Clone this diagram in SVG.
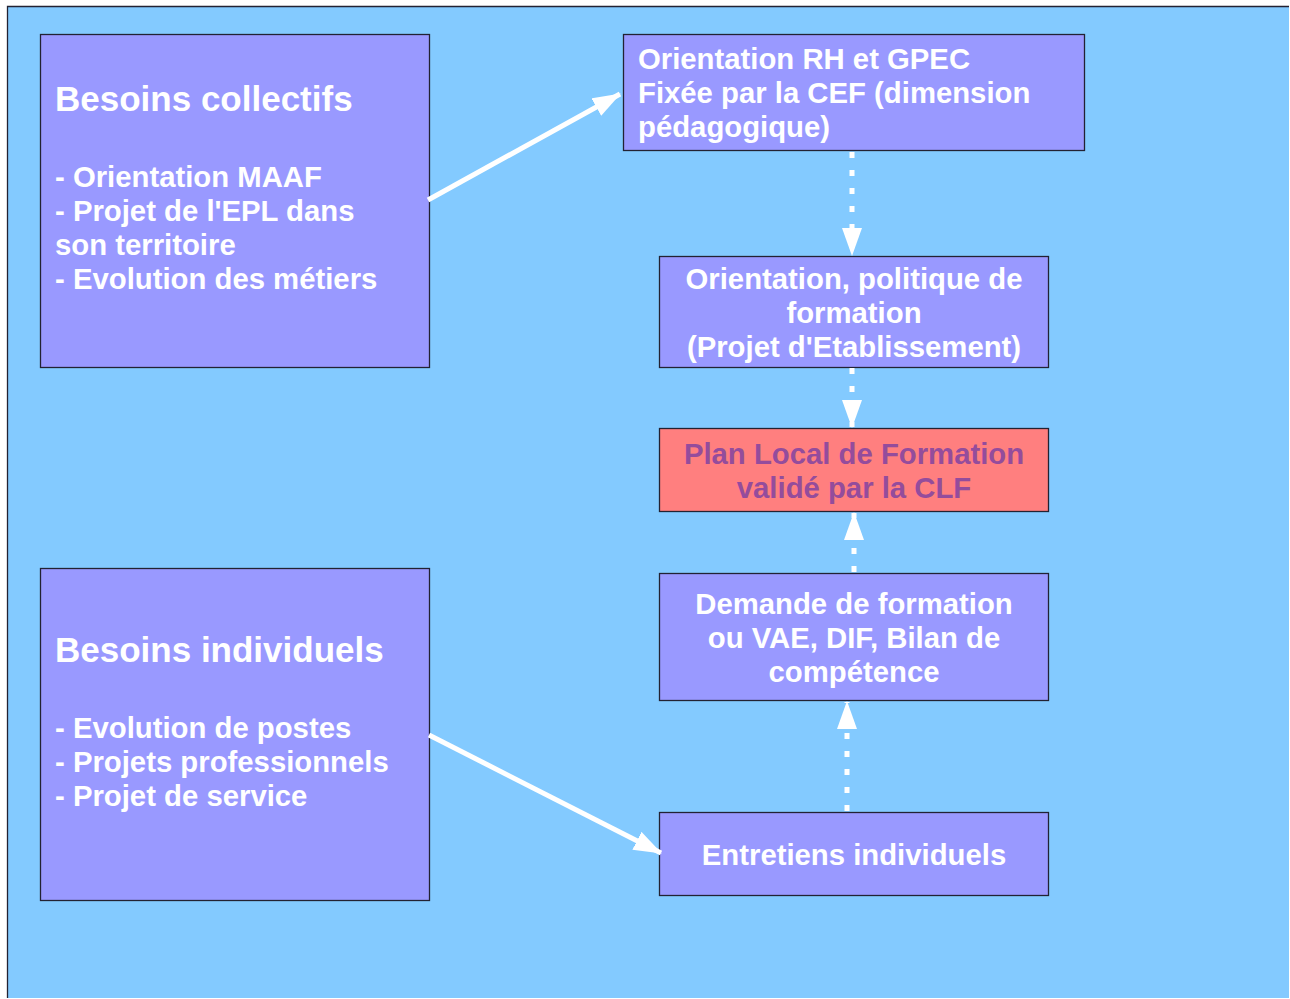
<svg xmlns="http://www.w3.org/2000/svg" width="1290" height="999" viewBox="0 0 1290 999">
<defs>
<style>
.box{fill:#9999ff;stroke:#222233;stroke-width:1.3}
.red{fill:#ff7f7f;stroke:#222233;stroke-width:1.3}
text{font-family:"Liberation Sans",Arial,sans-serif;font-weight:bold;fill:#ffffff;font-size:29.3px}
.title{font-size:35px}
.mid{text-anchor:middle}
.purple{fill:#944c9c}
.solid{stroke:#ffffff;stroke-width:5;fill:none}
.dot{stroke:#ffffff;stroke-width:5;fill:none;stroke-dasharray:6 12}
</style>
<marker id="ah" markerUnits="userSpaceOnUse" markerWidth="28" markerHeight="20" refX="27" refY="10" orient="auto" viewBox="0 0 28 20">
<path d="M0,0 L28,10 L0,20 z" fill="#ffffff"/>
</marker>
</defs>
<rect x="7" y="6" width="1282" height="992" fill="#83caff"/>
<path d="M7.5,998 V6.5 H1289" fill="none" stroke="#222233" stroke-width="1.3"/>

<g id="collectifs">
<rect class="box" x="40.5" y="34.5" width="389" height="333"/>
<text class="title" x="55" y="111">Besoins collectifs</text>
<text x="55" y="187">- Orientation MAAF</text>
<text x="55" y="221">- Projet de l'EPL dans</text>
<text x="55" y="255">son territoire</text>
<text x="55" y="289">- Evolution des métiers</text>
</g>

<g id="individuels">
<rect class="box" x="40.5" y="568.5" width="389" height="332"/>
<text class="title" x="55" y="662">Besoins individuels</text>
<text x="55" y="738">- Evolution de postes</text>
<text x="55" y="772">- Projets professionnels</text>
<text x="55" y="806">- Projet de service</text>
</g>

<g id="orientation-rh">
<rect class="box" x="623.5" y="34.5" width="461" height="116"/>
<text x="638" y="69">Orientation RH et GPEC</text>
<text x="638" y="103">Fixée par la CEF (dimension</text>
<text x="638" y="137">pédagogique)</text>
</g>

<g id="orientation-politique">
<rect class="box" x="659.5" y="256.5" width="389" height="111"/>
<text class="mid" x="854" y="289">Orientation, politique de</text>
<text class="mid" x="854" y="323">formation</text>
<text class="mid" x="854" y="357">(Projet d'Etablissement)</text>
</g>

<g id="plan-local">
<rect class="red" x="659.5" y="428.5" width="389" height="83"/>
<text class="mid purple" x="854" y="464">Plan Local de Formation</text>
<text class="mid purple" x="854" y="498">validé par la CLF</text>
</g>

<g id="demande">
<rect class="box" x="659.5" y="573.5" width="389" height="127"/>
<text class="mid" x="854" y="614">Demande de formation</text>
<text class="mid" x="854" y="648">ou VAE, DIF, Bilan de</text>
<text class="mid" x="854" y="682">compétence</text>
</g>

<g id="entretiens">
<rect class="box" x="659.5" y="812.5" width="389" height="83"/>
<text class="mid" x="854" y="865">Entretiens individuels</text>
</g>

<g id="connectors">
<line class="solid" x1="428" y1="200" x2="620" y2="94" marker-end="url(#ah)"/>
<line class="dot" x1="852" y1="152" x2="852" y2="255" marker-end="url(#ah)"/>
<line class="dot" x1="852" y1="368" x2="852" y2="427" marker-end="url(#ah)"/>
<line class="dot" x1="854" y1="572" x2="854" y2="513" marker-end="url(#ah)"/>
<line class="dot" x1="847" y1="811" x2="847" y2="702" marker-end="url(#ah)"/>
<line class="solid" x1="429" y1="735" x2="661" y2="853" marker-end="url(#ah)"/>
</g>
</svg>
